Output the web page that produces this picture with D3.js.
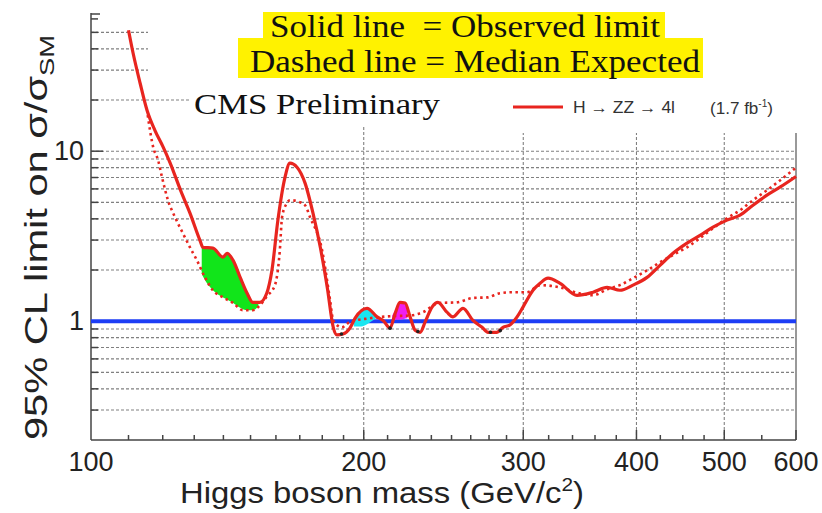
<!DOCTYPE html>
<html>
<head>
    <meta http-equiv="Content-Type" content="text/html;charset=utf-8">
    <script src="https://d3js.org/d3.v7.min.js"></script>
    <style>
        html, body {
            margin: 0;
            padding: 0;
            background: #fff;
        }

        svg {
            display: block;
        }

        .grid line {
            stroke: #808080;
            stroke-width: 1.1;
            stroke-dasharray: 3 2;
        }

        .sans {
            font-family: "Liberation Sans", Arial, sans-serif;
        }

        .serif {
            font-family: "Liberation Serif", "Times New Roman", serif;
        }
    </style>
</head>
<body>
<div id="chart"></div>
<script>
    // observed limit (solid red)
    var obsMass = [110, 111.3, 113.3, 115.3, 117.6, 120.1, 122.2, 125.7, 128.6, 131.9, 132.9, 136.3, 139.9, 141.3,
        143.5, 146.1, 148.7, 150.9, 153.6, 156.3, 158.4, 160.8, 163.7, 165.8, 168.8, 172.3, 175.8, 179.1, 182.3,
        185.1, 186.8, 189.7, 193.1, 195.6, 201.7, 206.9, 210.1, 213.8, 216.6, 219.3, 222.2, 225.0, 227.9, 230.8,
        233.8, 237.9, 241.5, 247.1, 250.9, 257.4, 264.0, 270.2, 274.3, 280.6, 284.9, 290.0, 295.3, 299.8, 307.5,
        313.1, 319.5, 329.4, 343.9, 358.2, 371.2, 383.6, 396.5, 410.9, 424.6, 438.9, 454.8, 470.1, 485.9, 503.5,
        520.4, 537.9, 557.3, 576.0, 600];
    var obsLimit = [51.5, 37.7, 25.1, 17.4, 13.3, 10.6, 8.6, 5.8, 4.32, 2.99, 2.72, 2.69, 2.38, 2.51,
        2.28, 1.81, 1.46, 1.29, 1.29, 1.46, 2.0, 3.93, 7.0, 8.5, 8.05, 6.49, 4.32, 2.72, 1.58,
        0.92, 0.83, 0.84, 0.91, 1.04, 1.19, 1.06, 1.01, 0.91, 1.11, 1.29, 1.28, 1.06, 0.885, 0.86,
        0.99, 1.21, 1.29, 1.13, 1.06, 1.19, 1.01, 0.92, 0.86, 0.86, 0.92, 0.95, 1.06, 1.21, 1.52,
        1.67, 1.79, 1.67, 1.42, 1.48, 1.58, 1.52, 1.63, 1.81, 2.13, 2.51, 2.88, 3.20, 3.57, 3.93,
        4.20, 4.81, 5.51, 6.14, 7.1];

    // median expected limit (dotted red)
    var expMass = [115.5, 117.1, 118.6, 119.8, 121.6, 123.8, 126.3, 128.6, 130.9, 133.6, 136.3, 139.9, 143.5,
        147.1, 150.9, 153.6, 156.3, 159.6, 161.6, 162.5, 164.5, 165.8, 170.1, 172.3, 174.5, 179.9, 183.6,
        185.1, 189.2, 193.1, 203, 213.8, 225, 232.5, 242.1, 253.1, 264.0, 273.7, 282.7, 292, 302.6, 313.1,
        329.4, 345.6, 358.2, 371.2, 383.6, 396.5, 410.9, 424.6, 438.9, 454.8, 470.1, 485.9, 503.5, 520.4,
        537.9, 557.3, 576, 600];
    var expLimit = [16.3, 10.6, 8.84, 7.0, 5.15, 4.09, 3.29, 2.72, 2.28, 1.81, 1.52, 1.38, 1.28,
        1.16, 1.16, 1.24, 1.40, 1.63, 2.62, 4.09, 4.94, 5.15, 5.01, 4.81, 4.09, 2.62, 1.33,
        1.01, 0.92, 0.99, 1.04, 1.07, 1.08, 1.13, 1.28, 1.29, 1.37, 1.38, 1.46, 1.48, 1.48, 1.63,
        1.58, 1.46, 1.42, 1.54, 1.63, 1.79, 1.99, 2.22, 2.45, 2.72, 3.08, 3.52, 4.03, 4.49,
        5.15, 5.89, 6.73, 8.0];

    // coloured patches between the curves
    var greenMass = [132.5, 133.3, 136.3, 139.9, 141.3, 143.5, 146.1, 148.7, 150.9, 153];
    var greenUpper = [2.75, 2.72, 2.69, 2.38, 2.51, 2.28, 1.81, 1.46, 1.29, 1.29];
    var greenLower = [1.9, 1.78, 1.52, 1.38, 1.34, 1.28, 1.2, 1.16, 1.16, 1.22];
    var cyanMass = [195, 198, 201.7, 204, 206.5];
    var cyanUpper = [1.02, 1.14, 1.19, 1.14, 1.07];
    var cyanLower = [0.93, 0.93, 0.96, 1.0, 1.04];
    var magentaMass = [215, 217, 219.3, 221.5, 223.5];
    var magentaUpper = [1.08, 1.18, 1.29, 1.28, 1.18];
    var magentaLower = [1.02, 1.02, 1.02, 1.03, 1.04];

    // small dark markers on the observed dips
    var dipMass = [189, 213.8, 229.5, 276, 283];
    var dipLimit = [0.84, 0.91, 0.87, 0.86, 0.88];

    var xTickLabels = [100, 200, 300, 400, 500, 600];
    var xMinorTicks = [110, 120, 130, 140, 150, 160, 170, 180, 190, 212.5, 225, 237.5, 250, 262.5, 275, 287.5,
        320, 340, 360, 380, 425, 450, 475, 550];
    var yTickLabels = [1, 10];
    var yMinorTicks = [0.3, 0.4, 0.5, 0.6, 0.7, 0.8, 0.9, 2, 3, 4, 5, 6, 7, 8, 9, 20, 30, 40, 50, 60];
    var yGridValues = [0.3, 0.4, 0.5, 0.6, 0.7, 0.8, 0.9, 2, 3, 4, 5, 6, 7, 8, 9, 10, 20, 30, 40, 50];
    var xGridValues = [200, 300, 400, 500];
    var smLimit = 1;

    var width = 822,
        height = 513,
        margin = {top: 13, right: 26, bottom: 73, left: 91};

    var svg = d3.select("#chart").append("svg")
        .attr("width", width)
        .attr("height", height);

    var x = d3.scaleLog().domain([100, 600]).range([margin.left, width - margin.right]);
    var y = d3.scaleLog().domain([0.2, 65]).range([height - margin.bottom, margin.top]);

    // grid
    var grid = svg.append("g").attr("class", "grid");
    grid.selectAll("line.h")
        .data(yGridValues)
        .enter().append("line")
        .attr("x1", x(100)).attr("x2", x(600))
        .attr("y1", function (d) { return y(d); })
        .attr("y2", function (d) { return y(d); });
    grid.selectAll("line.v")
        .data(xGridValues)
        .enter().append("line")
        .attr("y1", y(0.2)).attr("y2", y(0.2) - 320)
        .attr("x1", function (d) { return x(d); })
        .attr("x2", function (d) { return x(d); });

    // right frame (partly hidden by the legend)
    svg.append("line")
        .attr("x1", x(600)).attr("x2", x(600))
        .attr("y1", y(0.2)).attr("y2", 133)
        .attr("stroke", "#777").attr("stroke-width", 1.5);

    // legend / text area masks the grid
    svg.append("rect").attr("x", 148).attr("y", 0).attr("width", 680).attr("height", 88).attr("fill", "#fff");
    svg.append("rect").attr("x", 190).attr("y", 88).attr("width", 640).attr("height", 38).attr("fill", "#fff");
    svg.append("rect").attr("x", 370).attr("y", 120).attr("width", 460).attr("height", 13).attr("fill", "#fff");

    // axes
    var axisG = svg.append("g").attr("stroke", "#444").attr("stroke-width", 1.5);
    axisG.append("line")
        .attr("x1", x(100)).attr("x2", x(100))
        .attr("y1", y(0.2)).attr("y2", margin.top);
    axisG.append("line")
        .attr("x1", x(100)).attr("x2", x(600))
        .attr("y1", y(0.2)).attr("y2", y(0.2));
    axisG.selectAll("line.ymaj")
        .data(yTickLabels)
        .enter().append("line")
        .attr("x1", x(100)).attr("x2", x(100) + 12)
        .attr("y1", function (d) { return y(d); })
        .attr("y2", function (d) { return y(d); });
    axisG.selectAll("line.ymin")
        .data(yMinorTicks)
        .enter().append("line")
        .attr("x1", x(100)).attr("x2", x(100) + 7)
        .attr("y1", function (d) { return y(d); })
        .attr("y2", function (d) { return y(d); });
    axisG.append("line")
        .attr("x1", x(100)).attr("x2", x(100) + 9)
        .attr("y1", margin.top + 1).attr("y2", margin.top + 1);
    axisG.selectAll("line.xmaj")
        .data(xTickLabels.slice(1))
        .enter().append("line")
        .attr("x1", function (d) { return x(d); })
        .attr("x2", function (d) { return x(d); })
        .attr("y1", y(0.2)).attr("y2", y(0.2) - 10);
    axisG.selectAll("line.xmin")
        .data(xMinorTicks)
        .enter().append("line")
        .attr("x1", function (d) { return x(d); })
        .attr("x2", function (d) { return x(d); })
        .attr("y1", y(0.2)).attr("y2", y(0.2) - 5);

    // tick labels
    svg.selectAll("text.xl")
        .data(xTickLabels)
        .enter().append("text")
        .attr("class", "sans")
        .attr("x", function (d) { return x(d); })
        .attr("y", 471)
        .attr("text-anchor", "middle")
        .attr("font-size", 27)
        .attr("fill", "#222")
        .text(function (d) { return d; });
    svg.selectAll("text.yl")
        .data(yTickLabels)
        .enter().append("text")
        .attr("class", "sans")
        .attr("x", 84)
        .attr("y", function (d) { return y(d) + 9; })
        .attr("text-anchor", "end")
        .attr("font-size", 27)
        .attr("fill", "#222")
        .text(function (d) { return d; });

    // axis titles
    var xt = svg.append("text")
        .attr("class", "sans")
        .attr("x", 180).attr("y", 503)
        .attr("font-size", 30)
        .attr("fill", "#222")
        .attr("textLength", 404)
        .attr("lengthAdjust", "spacingAndGlyphs");
    xt.append("tspan").text("Higgs boson mass (GeV/c");
    xt.append("tspan").attr("dy", -12).attr("font-size", 19).text("2");
    xt.append("tspan").attr("dy", 12).text(")");

    var yt = svg.append("text")
        .attr("class", "sans")
        .attr("transform", "translate(47,440) rotate(-90)")
        .attr("font-size", 32)
        .attr("fill", "#222")
        .attr("textLength", 405)
        .attr("lengthAdjust", "spacingAndGlyphs");
    yt.append("tspan").text("95% CL limit on \u03c3/\u03c3");
    yt.append("tspan").attr("dy", 7).attr("font-size", 21).text("SM");

    // SM = 1 line
    svg.append("line")
        .attr("x1", x(100)).attr("x2", x(600))
        .attr("y1", y(smLimit)).attr("y2", y(smLimit))
        .attr("stroke", "#1d3df5").attr("stroke-width", 4);

    // patches
    function band(mass, upper, lower, colour) {
        var idx = d3.range(mass.length);
        var area = d3.area()
            .x(function (i) { return x(mass[i]); })
            .y0(function (i) { return y(lower[i]); })
            .y1(function (i) { return y(upper[i]); })
            .curve(d3.curveMonotoneX);
        svg.append("path").datum(idx).attr("d", area).attr("fill", colour);
    }
    band(greenMass, greenUpper, greenLower, "#11e51a");
    band(cyanMass, cyanUpper, cyanLower, "#19e6f0");
    band(magentaMass, magentaUpper, magentaLower, "#f01ef0");

    // curves
    var line = function (mass, lim) {
        return d3.line()
            .x(function (i) { return x(mass[i]); })
            .y(function (i) { return y(lim[i]); })
            .curve(d3.curveMonotoneX)(d3.range(mass.length));
    };
    svg.append("path")
        .attr("d", line(expMass, expLimit))
        .attr("fill", "none")
        .attr("stroke", "#e8251f")
        .attr("stroke-width", 2.6)
        .attr("stroke-dasharray", "2.5 3.5");
    svg.append("path")
        .attr("d", line(obsMass, obsLimit))
        .attr("fill", "none")
        .attr("stroke", "#e8251f")
        .attr("stroke-width", 3.2)
        .attr("stroke-linejoin", "round");

    svg.selectAll("circle.dip")
        .data(dipMass)
        .enter().append("circle")
        .attr("cx", function (d) { return x(d); })
        .attr("cy", function (d, i) { return y(dipLimit[i]); })
        .attr("r", 1.8)
        .attr("fill", "#222");

    // yellow caption
    svg.append("rect").attr("x", 263).attr("y", 12).attr("width", 402).attr("height", 27).attr("fill", "#fff200");
    svg.append("rect").attr("x", 238).attr("y", 38).attr("width", 465).attr("height", 40).attr("fill", "#fff200");
    svg.append("text")
        .attr("class", "serif")
        .attr("x", 270).attr("y", 37)
        .attr("font-size", 32).attr("fill", "#111")
        .attr("textLength", 390).attr("lengthAdjust", "spacingAndGlyphs")
        .style("white-space", "pre")
        .text("Solid line  = Observed limit");
    svg.append("text")
        .attr("class", "serif")
        .attr("x", 250).attr("y", 72)
        .attr("font-size", 32).attr("fill", "#111")
        .attr("textLength", 450).attr("lengthAdjust", "spacingAndGlyphs")
        .text("Dashed line = Median Expected");

    svg.append("text")
        .attr("class", "serif")
        .attr("x", 194).attr("y", 114)
        .attr("font-size", 30).attr("fill", "#111")
        .attr("textLength", 246).attr("lengthAdjust", "spacingAndGlyphs")
        .text("CMS Preliminary");

    // legend
    svg.append("line")
        .attr("x1", 513).attr("x2", 563)
        .attr("y1", 107).attr("y2", 107)
        .attr("stroke", "#e8251f").attr("stroke-width", 3.2);
    svg.append("text")
        .attr("class", "sans")
        .attr("x", 573).attr("y", 113)
        .attr("font-size", 16).attr("fill", "#333")
        .attr("textLength", 102).attr("lengthAdjust", "spacingAndGlyphs")
        .text("H \u2192 ZZ \u2192 4l");
    var lum = svg.append("text")
        .attr("class", "sans")
        .attr("x", 710).attr("y", 114)
        .attr("font-size", 17).attr("fill", "#333")
        .attr("textLength", 63).attr("lengthAdjust", "spacingAndGlyphs");
    lum.append("tspan").text("(1.7 fb");
    lum.append("tspan").attr("dy", -7).attr("font-size", 10).text("-1");
    lum.append("tspan").attr("dy", 7).text(")");
</script>
</body>
</html>
